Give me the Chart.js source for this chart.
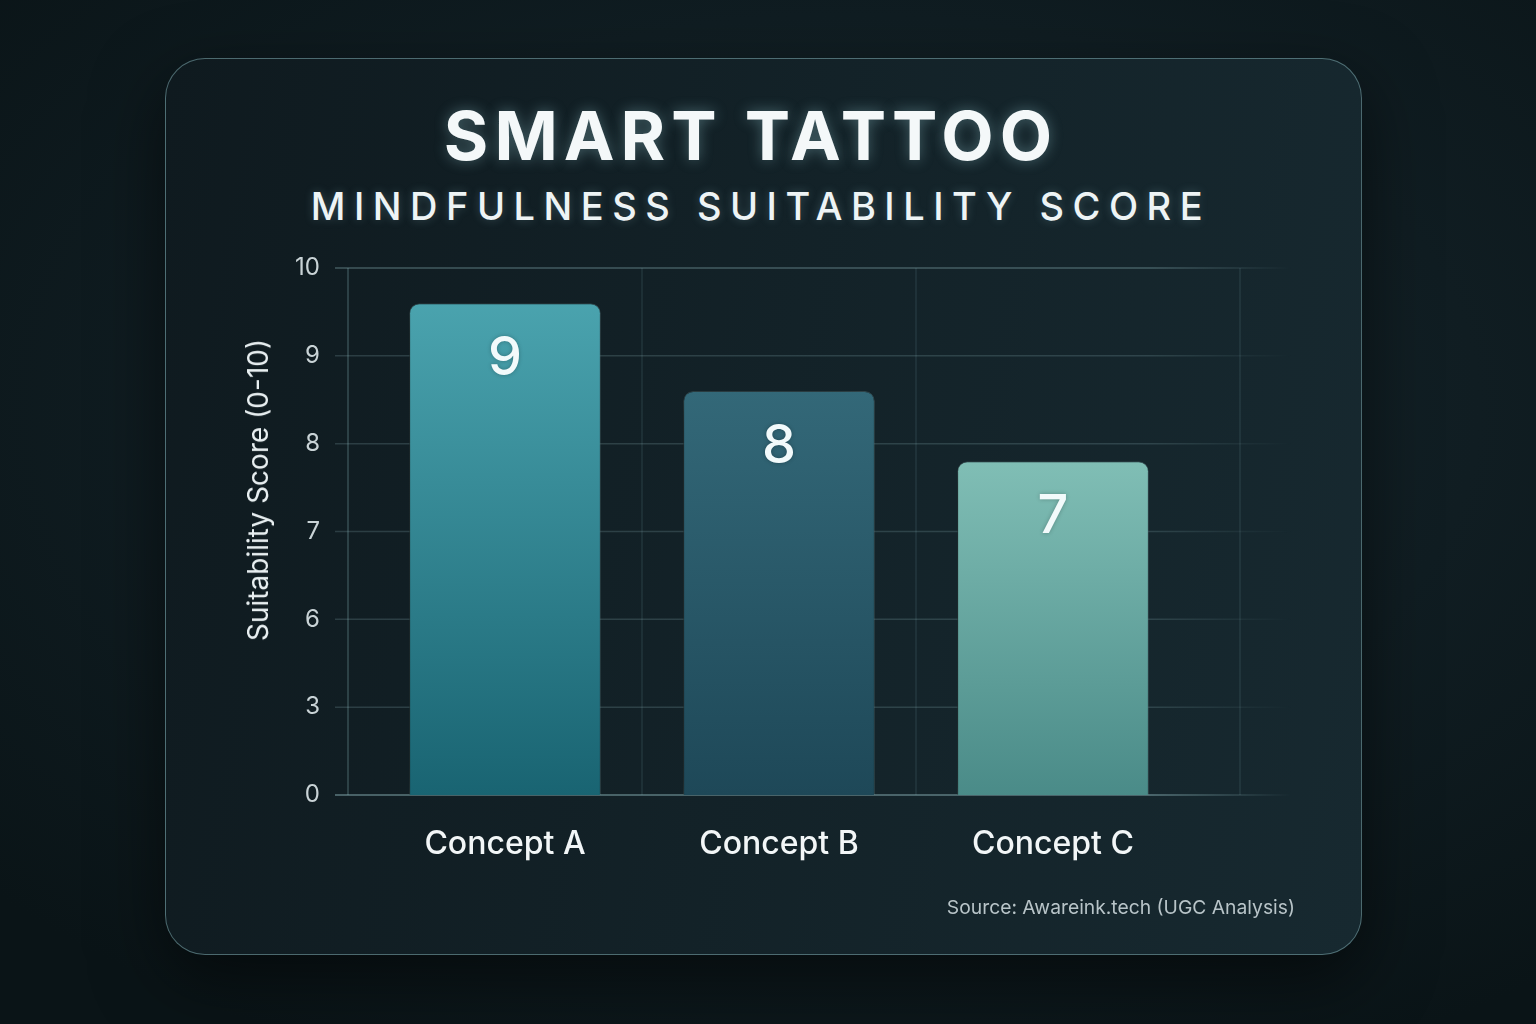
<!DOCTYPE html>
<html>
<head>
<meta charset="utf-8">
<title>Smart Tattoo - Mindfulness Suitability Score</title>
<script src="https://cdn.jsdelivr.net/npm/chart.js@4.4.1/dist/chart.umd.min.js"></script>
<style>
    html, body {
        margin: 0;
        padding: 0;
        width: 1536px;
        height: 1024px;
        overflow: hidden;
    }
    body {
        position: relative;
        font-family: Inter, "Open Sans", sans-serif;
        background: radial-gradient(ellipse 75% 70% at 55% 40%, #16272d 0%, #101d22 55%, #0a1417 100%);
    }
    .card {
        position: absolute;
        left: 165px;
        top: 58px;
        width: 1197px;
        height: 897px;
        box-sizing: border-box;
        border-radius: 40px;
        border: 1.5px solid rgba(125, 170, 175, 0.55);
        background: linear-gradient(100deg, #0f1a1f 0%, #132228 50%, #172930 100%);
        box-shadow: 0 24px 70px rgba(0, 0, 0, 0.55);
    }
    .title {
        position: absolute;
        left: 0;
        width: 1502px;
        top: 101px;
        text-align: center;
        font-size: 68px;
        line-height: 1;
        font-weight: 700;
        letter-spacing: 6px;
        color: #f4f8f9;
        text-shadow: 0 0 14px rgba(170, 225, 235, 0.35);
    }
    .subtitle {
        position: absolute;
        left: 0;
        width: 1522px;
        top: 187px;
        text-align: center;
        font-size: 38px;
        line-height: 1;
        font-weight: 500;
        letter-spacing: 8.5px;
        color: #eef4f5;
        text-shadow: 0 0 10px rgba(170, 225, 235, 0.25);
    }
    .ytitle {
        position: absolute;
        left: 258px;
        top: 490px;
        transform: translate(-50%, -50%) rotate(-90deg);
        white-space: nowrap;
        font-size: 28px;
        color: #e8eff1;
    }
    .source {
        position: absolute;
        right: 241px;
        top: 895px;
        font-size: 19.3px;
        color: #b8c4c8;
    }
    #chartBox {
        position: absolute;
        left: 0;
        top: 0;
    }
</style>
</head>
<body>
<div class="card"></div>
<div class="title">SMART TATTOO</div>
<div class="subtitle">MINDFULNESS SUITABILITY SCORE</div>
<div id="chartBox"><canvas id="scoreChart" width="1536" height="1024"></canvas></div>
<div class="ytitle">Suitability Score (0-10)</div>
<div class="source">Source: Awareink.tech (UGC Analysis)</div>

<script>
// data
const categories = ['Concept A', 'Concept B', 'Concept C'];
const scores = [9.6, 8.6, 7.8];        // bar heights against the axis
const scoreLabels = ['9', '8', '7'];   // numbers printed on the bars
const yTicks = [0, 3, 6, 7, 8, 9, 10]; // axis is evenly spaced between these

const barTops = ['#4aa3ae', '#336878', '#80beb5'];
const barBottoms = ['#196472', '#1e4858', '#4a8b88'];

// y axis where every tick gets the same room, values in between are linear
class StepScale extends Chart.LinearScale {
    buildTicks() {
        return yTicks.map(v => ({ value: v }));
    }
    slotOf(v) {
        if (v <= yTicks[0])
            return 0;
        for (let i = 1; i < yTicks.length; i++) {
            if (v <= yTicks[i])
                return i - 1 + (v - yTicks[i - 1]) / (yTicks[i] - yTicks[i - 1]);
        }
        return yTicks.length - 1;
    }
    getPixelForValue(v) {
        return this.getPixelForDecimal(this.slotOf(v) / (yTicks.length - 1));
    }
    getValueForPixel(px) {
        const s = this.getDecimalForPixel(px) * (yTicks.length - 1);
        const i = Math.max(0, Math.min(Math.floor(s), yTicks.length - 2));
        return yTicks[i] + (s - i) * (yTicks[i + 1] - yTicks[i]);
    }
}
StepScale.id = 'step';
StepScale.defaults = Chart.LinearScale.defaults;
Chart.register(StepScale);

function barFill(context) {
    const chart = context.chart;
    const i = context.dataIndex;
    const area = chart.chartArea;
    if (!area || !chart.scales.y)
        return barTops[i];
    const top = chart.scales.y.getPixelForValue(scores[i]);
    const g = chart.ctx.createLinearGradient(0, top, 0, area.bottom);
    g.addColorStop(0, barTops[i]);
    g.addColorStop(1, barBottoms[i]);
    return g;
}

const gridPlugin = {
    id: 'gridPlugin',
    beforeDatasetsDraw(chart) {
        const { ctx, chartArea: area, scales } = chart;
        const y = scales.y, x = scales.x;
        ctx.save();
        ctx.lineWidth = 1.5;

        // faint vertical lines on the category boundaries
        ctx.strokeStyle = 'rgba(120, 160, 165, 0.16)';
        const bounds = [];
        for (let i = 0; i < categories.length - 1; i++)
            bounds.push((x.getPixelForValue(i) + x.getPixelForValue(i + 1)) / 2);
        bounds.push(area.right + 50);
        bounds.forEach(px => {
            ctx.beginPath();
            ctx.moveTo(px, area.top);
            ctx.lineTo(px, area.bottom);
            ctx.stroke();
        });

        // axis line
        ctx.strokeStyle = 'rgba(130, 170, 175, 0.35)';
        ctx.beginPath();
        ctx.moveTo(area.left - 20, area.top);
        ctx.lineTo(area.left - 20, area.bottom);
        ctx.stroke();

        // horizontal lines, wider than the plot
        yTicks.forEach((v, i) => {
            const py = y.getPixelForValue(v);
            const g = ctx.createLinearGradient(area.left - 33, 0, area.right + 102, 0);
            const a = v === 0 ? 0.6 : (i === yTicks.length - 1 ? 0.4 : 0.22);
            g.addColorStop(0, 'rgba(140, 180, 185, ' + a + ')');
            g.addColorStop(0.85, 'rgba(140, 180, 185, ' + a + ')');
            g.addColorStop(1, 'rgba(140, 180, 185, 0)');
            ctx.strokeStyle = g;
            ctx.beginPath();
            ctx.moveTo(area.left - 33, py);
            ctx.lineTo(area.right + 102, py);
            ctx.stroke();
        });
        ctx.restore();
    },
    beforeDatasetDraw(chart) {
        const ctx = chart.ctx;
        ctx.save();
        ctx.shadowColor = 'rgba(0, 0, 0, 0.6)';
        ctx.shadowBlur = 30;
        ctx.shadowOffsetX = -10;
        ctx.shadowOffsetY = 6;
    },
    afterDatasetDraw(chart) {
        chart.ctx.restore();
    },
    afterDatasetsDraw(chart) {
        const ctx = chart.ctx;
        const bars = chart.getDatasetMeta(0).data;
        ctx.save();
        ctx.font = '500 54px Inter, "Open Sans", sans-serif';
        ctx.fillStyle = '#f2fafb';
        ctx.textAlign = 'center';
        ctx.textBaseline = 'middle';
        ctx.shadowColor = 'rgba(0, 0, 0, 0.25)';
        ctx.shadowBlur = 4;
        bars.forEach((bar, i) => {
            ctx.fillText(scoreLabels[i], bar.x, bar.y + 56);
        });
        ctx.restore();
    }
};

function initChart() {
    const ctx = document.getElementById('scoreChart').getContext('2d');

    new Chart(ctx, {
        type: 'bar',
        data: {
            labels: categories,
            datasets: [{
                label: 'Suitability Score',
                data: scores,
                backgroundColor: barFill,
                borderColor: 'rgba(170, 220, 225, 0.22)',
                borderWidth: 1,
                borderRadius: { topLeft: 10, topRight: 10, bottomLeft: 0, bottomRight: 0 },
                borderSkipped: 'bottom',
                categoryPercentage: 1,
                barPercentage: 0.7
            }]
        },
        options: {
            responsive: false,
            animation: false,
            devicePixelRatio: 1,
            layout: {
                padding: { top: 268, bottom: 149, left: 258, right: 346 }
            },
            plugins: {
                legend: { display: false },
                tooltip: { enabled: false }
            },
            scales: {
                x: {
                    grid: { display: false },
                    border: { display: false },
                    ticks: {
                        color: '#f2f6f7',
                        padding: 22,
                        font: { family: 'Inter, "Open Sans", sans-serif', size: 32, weight: '500' }
                    },
                    afterFit(scale) { scale.height = 80; }
                },
                y: {
                    type: 'step',
                    min: 0,
                    max: 10,
                    grid: { display: false },
                    border: { display: false },
                    ticks: {
                        color: '#c9d3d6',
                        padding: 40,
                        font: { family: 'Inter, "Open Sans", sans-serif', size: 24 },
                        callback: v => String(v)
                    },
                    afterFit(scale) { scale.width = 110; }
                }
            }
        },
        plugins: [gridPlugin]
    });
}

initChart();
</script>
</body>
</html>
